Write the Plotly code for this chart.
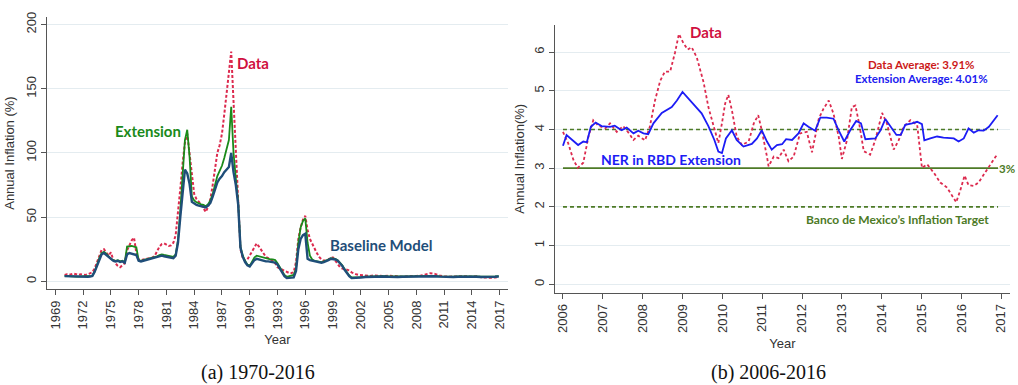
import numpy as np
import plotly.graph_objects as go

# ---------------- Panel (a): 1970-2016, quarterly to 2001, then semi-annual ----------------
q_years = list(range(1970, 2002))
tail_x = [2002.0, 2002.5, 2003.0, 2003.5, 2004.0, 2004.5, 2005.0, 2005.5, 2006.0, 2006.5,
          2007.0, 2007.5, 2008.0, 2008.5, 2009.0, 2009.5, 2010.0, 2010.5, 2011.0, 2011.5,
          2012.0, 2012.5, 2013.0, 2013.5, 2014.0, 2014.5, 2015.0, 2015.5, 2016.0, 2016.5, 2016.9]

baseline_q = [
    4.0, 3.9, 3.8, 3.7,  3.6, 3.5, 3.5, 3.6,  3.5, 3.4, 3.5, 3.7,  4.2, 7.5, 12.5, 17.5,
    21.0, 22.0, 20.5, 18.5,  17.0, 16.0, 15.5, 16.0,  15.0, 15.5, 14.5, 21.0,  22.0, 21.5, 21.0, 20.5,
    16.0, 15.5, 16.0, 16.5,  17.0, 17.0, 17.5, 18.0,  18.5, 19.5, 20.0, 19.5,  19.0, 19.0, 18.5, 18.0,
    20.0, 30.0, 50.0, 70.0,  87.0, 84.0, 76.0, 62.0,  60.5, 59.5, 59.0, 58.5,  58.0, 57.5, 59.0, 61.0,
    66.0, 72.0, 77.0, 80.0,  82.0, 85.0, 87.0, 89.0,  100.0, 85.0, 75.0, 60.0,  26.0, 19.0, 15.0, 12.5,
    11.5, 14.0, 16.5, 17.5,  17.0, 16.0, 15.5, 15.5,  15.5, 15.0, 15.0, 14.5,  13.0, 10.0, 7.0, 4.0,
    2.5, 2.5, 2.8, 3.0,  8.0, 25.0, 33.0, 36.0,  37.0, 17.5, 16.5, 16.0,  15.5, 15.0, 14.5, 14.5,
    15.0, 15.5, 16.5, 17.5,  17.5, 17.0, 16.0, 14.0,  12.0, 9.0, 6.0, 4.0,  2.5, 2.5, 2.6, 2.8,
]
baseline_tail = [3.0, 3.3, 3.5, 3.4, 3.6, 3.7, 3.5, 3.3, 3.4, 3.5, 3.6, 3.7, 3.8, 3.9, 4.0, 4.1,
                 3.9, 3.6, 3.4, 3.3, 3.4, 3.5, 3.6, 3.7, 3.6, 3.5, 3.3, 3.2, 3.3, 3.5, 3.7]

extension_q = [
    4.2, 4.0, 3.9, 3.8,  3.7, 3.6, 3.6, 3.7,  3.6, 3.5, 3.6, 3.8,  4.3, 7.5, 13.0, 18.0,
    22.0, 23.0, 21.5, 19.5,  17.5, 16.5, 16.0, 16.5,  15.5, 16.0, 15.0, 27.0,  27.5, 27.5, 27.0, 26.5,
    16.5, 16.0, 16.5, 17.0,  17.5, 17.5, 18.0, 18.5,  19.5, 20.5, 21.0, 20.5,  20.0, 20.0, 19.5, 19.0,
    21.0, 32.0, 55.0, 85.0,  110.0, 118.0, 97.0, 66.0,  63.0, 61.5, 60.5, 60.0,  59.5, 58.5, 60.0, 63.0,
    68.0, 75.0, 82.0, 86.0,  90.0, 96.0, 104.0, 110.0,  136.0, 100.0, 80.0, 62.0,  27.0, 20.0, 16.0, 13.0,
    12.0, 15.0, 18.5, 20.0,  19.5, 18.5, 18.0, 17.5,  17.0, 17.0, 17.0, 16.5,  14.0, 11.0, 8.0, 5.0,
    3.5, 4.0, 4.5, 5.0,  10.0, 30.0, 42.0, 47.0,  49.0, 30.0, 20.0, 17.0,  16.0, 15.5, 15.0, 15.0,
    15.5, 16.0, 17.0, 18.0,  18.0, 17.5, 16.5, 14.5,  12.5, 9.5, 6.5, 4.5,  3.0, 3.0, 3.1, 3.3,
]
extension_tail = [3.3, 3.6, 3.8, 3.7, 3.9, 4.0, 3.8, 3.6, 3.7, 3.8, 3.9, 4.0, 4.1, 4.2, 4.4, 4.4,
                  4.2, 3.9, 3.7, 3.6, 3.7, 3.8, 3.9, 4.0, 3.9, 3.8, 3.6, 3.5, 3.6, 3.8, 4.0]

data_q = [
    5.0, 5.5, 5.0, 5.5,  6.0, 5.5, 5.0, 5.5,  5.0, 5.0, 5.5, 6.0,  7.0, 10.0, 15.0, 20.0,
    24.5, 25.0, 22.0, 20.0,  22.5, 17.0, 14.0, 12.0,  11.0, 12.5, 14.0, 24.0,  28.0, 32.0, 34.0, 22.0,
    17.0, 16.5, 17.0, 17.5,  17.5, 18.0, 18.5, 20.0,  24.0, 27.0, 29.0, 29.5,  28.5, 27.5, 28.0, 30.0,
    36.0, 52.0, 72.0, 92.0,  108.0, 115.0, 98.0, 80.0,  68.0, 64.0, 62.0, 60.0,  57.0, 54.0, 58.0, 64.0,
    75.0, 88.0, 100.0, 106.0,  115.0, 130.0, 145.0, 160.0,  179.0, 140.0, 100.0, 65.0,  25.0, 18.0, 16.0, 17.0,
    20.0, 24.0, 27.0, 29.5,  27.0, 24.0, 21.0, 19.0,  18.0, 17.0, 16.0, 14.0,  11.0, 10.0, 9.0, 8.0,
    7.0, 6.5, 6.5, 7.0,  15.0, 33.0, 42.0, 48.0,  51.0, 40.0, 33.0, 29.0,  25.0, 22.0, 19.0, 17.0,
    16.0, 16.5, 17.0, 18.5,  18.5, 16.0, 13.0, 11.0,  10.0, 9.5, 9.0, 8.5,  7.0, 6.0, 5.5, 5.0,
]
data_tail = [5.0, 4.5, 4.2, 4.6, 4.3, 4.0, 4.5, 4.2, 3.8, 3.6, 4.0, 3.9, 4.2, 4.5, 5.5, 6.3,
             5.8, 4.5, 4.0, 3.6, 3.8, 4.0, 4.1, 3.9, 3.5, 4.0, 3.2, 2.8, 2.7, 3.0, 3.4]

left_ticks = list(range(1969, 2018, 3))
left_yticks = [0, 50, 100, 150, 200]

# ---------------- Panel (b): 2006-2016 ----------------
ext_b_x = [2006.00, 2006.09, 2006.38, 2006.51, 2006.60, 2006.70, 2006.82, 2006.97, 2007.18, 2007.30,
           2007.47, 2007.60, 2007.77, 2007.89, 2008.02, 2008.14, 2008.27, 2008.48, 2008.73, 2008.86,
           2009.00, 2009.15, 2009.32, 2009.48, 2009.65, 2009.80, 2009.90, 2009.99, 2010.09, 2010.24,
           2010.36, 2010.53, 2010.74, 2010.87, 2010.99, 2011.12, 2011.24, 2011.37, 2011.50, 2011.60,
           2011.75, 2011.91, 2012.04, 2012.16, 2012.33, 2012.46, 2012.62, 2012.79, 2012.92, 2013.06,
           2013.21, 2013.36, 2013.48, 2013.59, 2013.84, 2013.97, 2014.09, 2014.23, 2014.37, 2014.48,
           2014.59, 2014.76, 2014.89, 2015.01, 2015.07, 2015.22, 2015.39, 2015.55, 2015.81, 2015.93,
           2016.06, 2016.18, 2016.31, 2016.43, 2016.56, 2016.69, 2016.81, 2016.91]
ext_b_y = [3.58, 3.86, 3.60, 3.69, 3.67, 4.07, 4.18, 4.09, 4.07, 4.10,
           3.98, 4.05, 3.90, 3.97, 3.90, 3.88, 4.16, 4.43, 4.58, 4.75,
           4.97, 4.80, 4.63, 4.42, 4.09, 3.73, 3.43, 3.39, 3.77, 3.98,
           3.73, 3.56, 3.63, 3.77, 3.98, 3.69, 3.48, 3.60, 3.62, 3.75,
           3.73, 3.90, 4.16, 4.07, 3.97, 4.31, 4.31, 4.28, 3.98, 3.69,
           3.98, 4.22, 4.16, 3.75, 3.77, 3.98, 4.27, 4.05, 3.86, 3.86,
           4.12, 4.16, 4.20, 4.14, 3.72, 3.77, 3.82, 3.79, 3.77, 3.69,
           3.77, 4.03, 3.92, 3.98, 3.97, 4.07, 4.24, 4.37]

data_b_x = [2006.00, 2006.13, 2006.26, 2006.37, 2006.51, 2006.64, 2006.76, 2006.89, 2007.06, 2007.18,
            2007.35, 2007.51, 2007.66, 2007.77, 2007.89, 2008.06, 2008.18, 2008.31, 2008.44, 2008.56,
            2008.69, 2008.81, 2008.91, 2009.02, 2009.13, 2009.23, 2009.36, 2009.53, 2009.65, 2009.78,
            2009.90, 2009.99, 2010.07, 2010.15, 2010.24, 2010.36, 2010.49, 2010.66, 2010.79, 2010.90,
            2010.99, 2011.12, 2011.16, 2011.29, 2011.41, 2011.54, 2011.66, 2011.79, 2011.95, 2012.12,
            2012.25, 2012.42, 2012.54, 2012.67, 2012.79, 2012.92, 2013.00, 2013.13, 2013.25, 2013.34,
            2013.44, 2013.55, 2013.71, 2013.84, 2014.01, 2014.13, 2014.30, 2014.43, 2014.55, 2014.72,
            2014.89, 2015.01, 2015.14, 2015.31, 2015.47, 2015.64, 2015.76, 2015.87, 2015.97, 2016.08,
            2016.18, 2016.31, 2016.43, 2016.56, 2016.69, 2016.86, 2016.92]
data_b_y = [3.94, 3.65, 3.22, 3.01, 3.14, 3.82, 4.24, 4.10, 4.03, 4.16,
            3.94, 4.09, 3.90, 3.73, 3.84, 3.72, 4.07, 4.75, 5.26, 5.50,
            5.50, 5.98, 6.47, 6.24, 6.07, 6.13, 5.86, 5.22, 4.58, 4.07,
            3.65, 4.16, 4.67, 4.90, 4.50, 3.82, 3.60, 3.69, 4.16, 4.37,
            3.98, 3.30, 3.05, 3.30, 3.26, 3.48, 3.18, 3.30, 3.90, 3.94,
            3.41, 4.28, 4.54, 4.75, 4.41, 3.82, 3.24, 3.73, 4.58, 4.62,
            4.12, 3.44, 3.35, 3.73, 4.43, 4.16, 3.48, 3.73, 4.07, 4.24,
            4.12, 3.01, 3.10, 2.88, 2.63, 2.50, 2.29, 2.12, 2.42, 2.81,
            2.56, 2.54, 2.63, 2.84, 3.05, 3.30, 3.35]

right_ticks = list(range(2006, 2018))
right_yticks = [0, 1, 2, 3, 4, 5, 6]
ref_span = [2006.0, 2016.92]
upper_band, mid_target, lower_band = 4, 3, 2

# ---------------- build x positions for panel (a) ----------------
left_x = [y + q / 4 for y in q_years for q in range(4)] + tail_x
baseline = baseline_q + baseline_tail
extension = extension_q + extension_tail
data_a = data_q + data_tail

W, H = 1018, 385
TICK_FONT = dict(family="Liberation Sans, Arial, sans-serif", size=13, color="#333333")
LABEL_FONT = "Lato, Open Sans, sans-serif"

NAVY = "#1f4e79"
GREEN = "#1a8a1a"
CRIMSON = "#dc2a4e"
BLUE = "#1c1cf5"
OLIVE = "#4d7a26"

fig = go.Figure()

# panel (a) series
fig.add_trace(go.Scatter(x=left_x, y=data_a, mode="lines",
                         line=dict(color=CRIMSON, width=2, dash="3px,2px"),
                         xaxis="x", yaxis="y", showlegend=False))
fig.add_trace(go.Scatter(x=left_x, y=extension, mode="lines",
                         line=dict(color=GREEN, width=1.8),
                         xaxis="x", yaxis="y", showlegend=False))
fig.add_trace(go.Scatter(x=left_x, y=baseline, mode="lines",
                         line=dict(color=NAVY, width=2.4),
                         xaxis="x", yaxis="y", showlegend=False))

# panel (b) reference lines
fig.add_trace(go.Scatter(x=ref_span, y=[upper_band] * 2, mode="lines",
                         line=dict(color=OLIVE, width=1.6, dash="4px,3px"),
                         xaxis="x2", yaxis="y2", showlegend=False))
fig.add_trace(go.Scatter(x=ref_span, y=[mid_target] * 2, mode="lines",
                         line=dict(color=OLIVE, width=1.8),
                         xaxis="x2", yaxis="y2", showlegend=False))
fig.add_trace(go.Scatter(x=ref_span, y=[lower_band] * 2, mode="lines",
                         line=dict(color=OLIVE, width=1.6, dash="4px,3px"),
                         xaxis="x2", yaxis="y2", showlegend=False))

# panel (b) series
fig.add_trace(go.Scatter(x=data_b_x, y=data_b_y, mode="lines",
                         line=dict(color=CRIMSON, width=1.8, dash="3px,2.5px"),
                         xaxis="x2", yaxis="y2", showlegend=False))
fig.add_trace(go.Scatter(x=ext_b_x, y=ext_b_y, mode="lines",
                         line=dict(color=BLUE, width=1.8),
                         xaxis="x2", yaxis="y2", showlegend=False))


def px_x(p):
    return p / W


def px_y(p):
    return 1 - p / H


axis_common = dict(showline=True, linecolor="#555555", linewidth=1.3,
                   ticks="outside", ticklen=5, tickcolor="#555555", tickwidth=1,
                   tickfont=TICK_FONT, zeroline=False)

fig.update_layout(
    width=W, height=H,
    margin=dict(l=0, r=0, t=0, b=0),
    paper_bgcolor="white", plot_bgcolor="white",
    xaxis=dict(domain=[px_x(47), px_x(508)], range=[1968.1, 2017.9],
               tickvals=left_ticks, tickangle=-90, showgrid=False,
               title=dict(text="Year", font=TICK_FONT, standoff=6),
               anchor="y", **axis_common),
    yaxis=dict(domain=[px_y(288), px_y(12)], range=[-6.2, 206],
               tickvals=left_yticks, tickangle=-90, showgrid=True,
               gridcolor="#e4ecf0", gridwidth=1,
               title=dict(text="Annual Inflation (%)", font=TICK_FONT, standoff=6),
               anchor="x", **axis_common),
    xaxis2=dict(domain=[px_x(555), px_x(1010)], range=[2005.8, 2017.22],
                tickvals=right_ticks, tickangle=-90, showgrid=False,
                title=dict(text="Year", font=TICK_FONT, standoff=6),
                anchor="y2", **axis_common),
    yaxis2=dict(domain=[px_y(291.5), px_y(20)], range=[-0.22, 6.71],
                tickvals=right_yticks, tickangle=-90, showgrid=True,
                gridcolor="#e4ecf0", gridwidth=1,
                title=dict(text="Annual Inflation(%)", font=TICK_FONT, standoff=4),
                anchor="x2", **axis_common),
)


def label(x, y, text, color, size, xref="x", yref="y", xanchor="center"):
    fig.add_annotation(x=x, y=y, xref=xref, yref=yref, text=f"<b>{text}</b>",
                       showarrow=False, xanchor=xanchor, yanchor="middle",
                       font=dict(family=LABEL_FONT, size=size, color=color))


# panel (a) labels
label(1990.4, 170, "Data", "#d01040", 15)
label(1979.0, 117, "Extension", GREEN, 15)
label(2004.2, 28, "Baseline Model", NAVY, 15)

# panel (b) labels
label(2009.6, 6.52, "Data", "#d01040", 15, "x2", "y2")
label(2015.0, 5.67, "Data Average: 3.91%", "#cc1a1a", 11.5, "x2", "y2")
label(2015.0, 5.31, "Extension Average: 4.01%", "#2020f0", 11.5, "x2", "y2")
label(2008.7, 3.22, "NER in RBD Extension", BLUE, 14, "x2", "y2")
label(1017 / W, 3.0, "3%", OLIVE, 11.5, "paper", "y2", xanchor="right")
label(2014.4, 1.67, "Banco de Mexico\u2019s Inflation Target", OLIVE, 12, "x2", "y2")

# subfigure captions
for cx, txt in [(258, "(a) 1970-2016"), (768, "(b) 2006-2016")]:
    fig.add_annotation(x=px_x(cx), y=px_y(372), xref="paper", yref="paper", text=txt,
                       showarrow=False, xanchor="center", yanchor="middle",
                       font=dict(family="Liberation Serif, DejaVu Serif, serif",
                                 size=20, color="#111111"))

fig.write_html("out.html")
